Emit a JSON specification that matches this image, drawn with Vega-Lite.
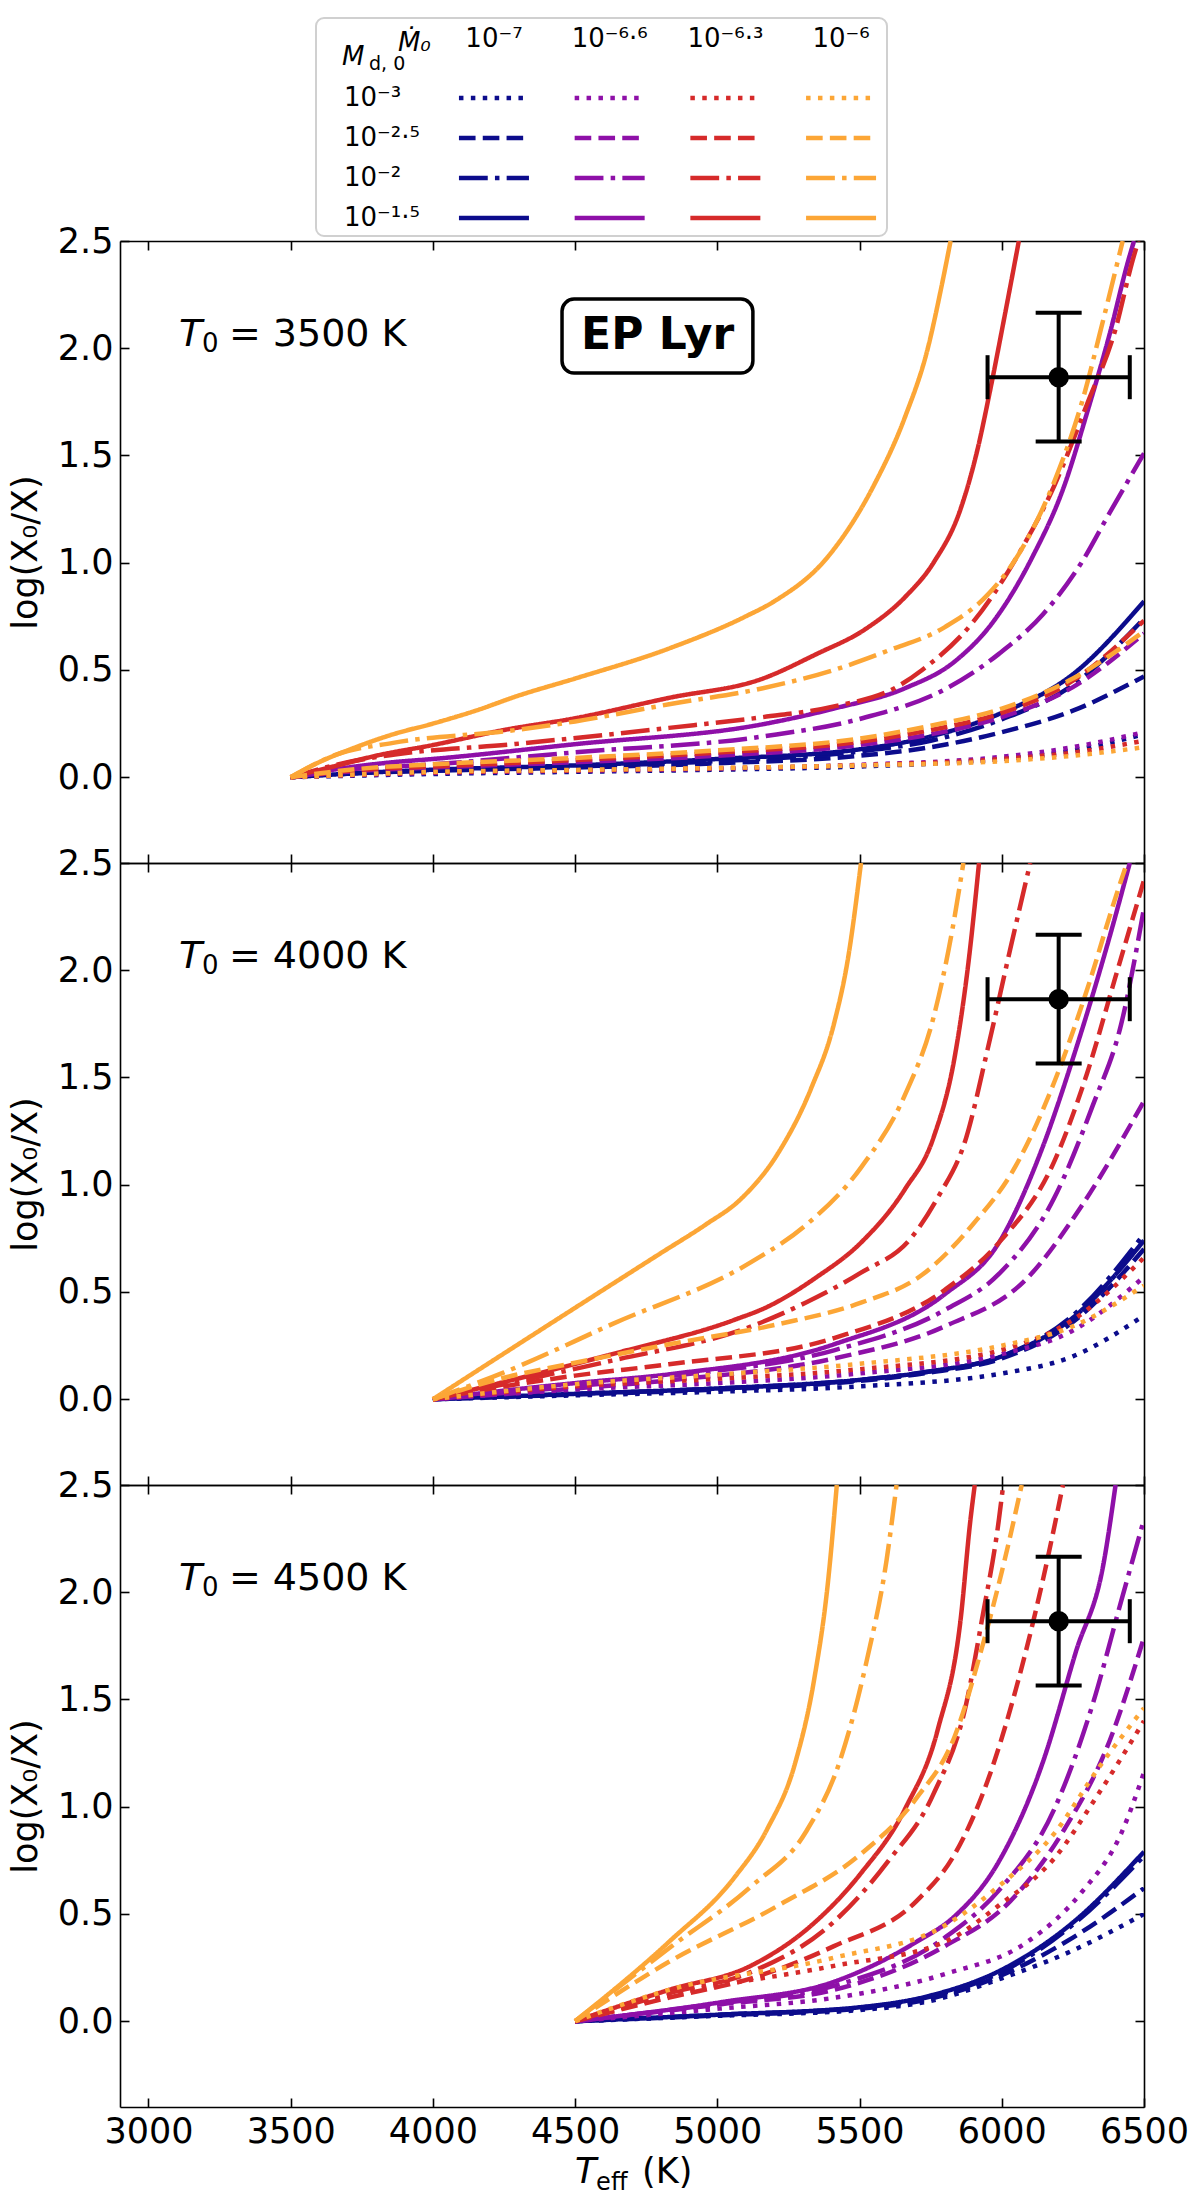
{
  "$schema": "https://vega.github.io/schema/vega-lite/v6.json",
  "background": "white",
  "autosize": {"type": "pad"},
  "padding": {"left": 8, "top": 17, "right": 5, "bottom": 5},
  "config": {
    "font": "DejaVu Sans",
    "view": {"stroke": null},
    "axis": {
      "grid": false,
      "domainColor": "black",
      "domainWidth": 1.6,
      "tickColor": "black",
      "tickWidth": 1.6,
      "tickSize": -9,
      "labelPadding": 16,
      "labelFont": "DejaVu Sans",
      "labelFontSize": 35,
      "labelColor": "black",
      "titleFont": "DejaVu Sans",
      "titleFontSize": 35,
      "titleFontWeight": "normal",
      "titleColor": "black"
    }
  },
  "datasets": {
    "obs": [{"T": 6200, "Tlo": 5950, "Thi": 6450, "v": 1.865, "vlo": 1.565, "vhi": 2.165}],
    "leg": [
      {"m": "-7", "d": "-3", "c": 0, "r": 0}, {"m": "-7", "d": "-2.5", "c": 0, "r": 1}, {"m": "-7", "d": "-2", "c": 0, "r": 2}, {"m": "-7", "d": "-1.5", "c": 0, "r": 3},
      {"m": "-6.6", "d": "-3", "c": 1, "r": 0}, {"m": "-6.6", "d": "-2.5", "c": 1, "r": 1}, {"m": "-6.6", "d": "-2", "c": 1, "r": 2}, {"m": "-6.6", "d": "-1.5", "c": 1, "r": 3},
      {"m": "-6.3", "d": "-3", "c": 2, "r": 0}, {"m": "-6.3", "d": "-2.5", "c": 2, "r": 1}, {"m": "-6.3", "d": "-2", "c": 2, "r": 2}, {"m": "-6.3", "d": "-1.5", "c": 2, "r": 3},
      {"m": "-6", "d": "-3", "c": 3, "r": 0}, {"m": "-6", "d": "-2.5", "c": 3, "r": 1}, {"m": "-6", "d": "-2", "c": 3, "r": 2}, {"m": "-6", "d": "-1.5", "c": 3, "r": 3}
    ],
    "legcols": [{"c": 0, "lab": "10⁻⁷"}, {"c": 1, "lab": "10⁻⁶·⁶"}, {"c": 2, "lab": "10⁻⁶·³"}, {"c": 3, "lab": "10⁻⁶"}],
    "legrows": [{"r": 0, "lab": "10⁻³"}, {"r": 1, "lab": "10⁻²·⁵"}, {"r": 2, "lab": "10⁻²"}, {"r": 3, "lab": "10⁻¹·⁵"}],
    "curves": [
      {"p":3500,"m":"-7","d":"-3","x":3500,"y":0},{"p":3500,"m":"-7","d":"-3","x":4000,"y":0.015},{"p":3500,"m":"-7","d":"-3","x":4500,"y":0.025},{"p":3500,"m":"-7","d":"-3","x":5000,"y":0.035},{"p":3500,"m":"-7","d":"-3","x":5500,"y":0.05},{"p":3500,"m":"-7","d":"-3","x":6000,"y":0.085},{"p":3500,"m":"-7","d":"-3","x":6250,"y":0.125},{"p":3500,"m":"-7","d":"-3","x":6500,"y":0.2},
      {"p":3500,"m":"-7","d":"-2.5","x":3500,"y":0},{"p":3500,"m":"-7","d":"-2.5","x":3750,"y":0.02},{"p":3500,"m":"-7","d":"-2.5","x":4000,"y":0.03},{"p":3500,"m":"-7","d":"-2.5","x":4500,"y":0.045},{"p":3500,"m":"-7","d":"-2.5","x":5000,"y":0.065},{"p":3500,"m":"-7","d":"-2.5","x":5500,"y":0.1},{"p":3500,"m":"-7","d":"-2.5","x":5750,"y":0.14},{"p":3500,"m":"-7","d":"-2.5","x":6000,"y":0.21},{"p":3500,"m":"-7","d":"-2.5","x":6250,"y":0.31},{"p":3500,"m":"-7","d":"-2.5","x":6500,"y":0.47},
      {"p":3500,"m":"-7","d":"-2","x":3500,"y":0},{"p":3500,"m":"-7","d":"-2","x":3750,"y":0.02},{"p":3500,"m":"-7","d":"-2","x":4000,"y":0.03},{"p":3500,"m":"-7","d":"-2","x":4500,"y":0.05},{"p":3500,"m":"-7","d":"-2","x":5000,"y":0.075},{"p":3500,"m":"-7","d":"-2","x":5500,"y":0.12},{"p":3500,"m":"-7","d":"-2","x":5750,"y":0.17},{"p":3500,"m":"-7","d":"-2","x":6000,"y":0.27},{"p":3500,"m":"-7","d":"-2","x":6250,"y":0.43},{"p":3500,"m":"-7","d":"-2","x":6500,"y":0.74},
      {"p":3500,"m":"-7","d":"-1.5","x":3500,"y":0},{"p":3500,"m":"-7","d":"-1.5","x":3750,"y":0.02},{"p":3500,"m":"-7","d":"-1.5","x":4000,"y":0.035},{"p":3500,"m":"-7","d":"-1.5","x":4500,"y":0.055},{"p":3500,"m":"-7","d":"-1.5","x":5000,"y":0.085},{"p":3500,"m":"-7","d":"-1.5","x":5500,"y":0.13},{"p":3500,"m":"-7","d":"-1.5","x":5750,"y":0.19},{"p":3500,"m":"-7","d":"-1.5","x":6000,"y":0.3},{"p":3500,"m":"-7","d":"-1.5","x":6250,"y":0.48},{"p":3500,"m":"-7","d":"-1.5","x":6500,"y":0.82},
      {"p":3500,"m":"-6.6","d":"-3","x":3500,"y":0},{"p":3500,"m":"-6.6","d":"-3","x":4000,"y":0.02},{"p":3500,"m":"-6.6","d":"-3","x":4500,"y":0.03},{"p":3500,"m":"-6.6","d":"-3","x":5000,"y":0.04},{"p":3500,"m":"-6.6","d":"-3","x":5500,"y":0.058},{"p":3500,"m":"-6.6","d":"-3","x":6000,"y":0.095},{"p":3500,"m":"-6.6","d":"-3","x":6250,"y":0.14},{"p":3500,"m":"-6.6","d":"-3","x":6500,"y":0.21},
      {"p":3500,"m":"-6.6","d":"-2.5","x":3500,"y":0},{"p":3500,"m":"-6.6","d":"-2.5","x":3750,"y":0.03},{"p":3500,"m":"-6.6","d":"-2.5","x":4000,"y":0.045},{"p":3500,"m":"-6.6","d":"-2.5","x":4500,"y":0.07},{"p":3500,"m":"-6.6","d":"-2.5","x":5000,"y":0.1},{"p":3500,"m":"-6.6","d":"-2.5","x":5500,"y":0.15},{"p":3500,"m":"-6.6","d":"-2.5","x":5750,"y":0.2},{"p":3500,"m":"-6.6","d":"-2.5","x":6000,"y":0.28},{"p":3500,"m":"-6.6","d":"-2.5","x":6250,"y":0.42},{"p":3500,"m":"-6.6","d":"-2.5","x":6500,"y":0.67},
      {"p":3500,"m":"-6.6","d":"-2","x":3500,"y":0},{"p":3500,"m":"-6.6","d":"-2","x":3700,"y":0.035},{"p":3500,"m":"-6.6","d":"-2","x":4000,"y":0.06},{"p":3500,"m":"-6.6","d":"-2","x":4500,"y":0.116},{"p":3500,"m":"-6.6","d":"-2","x":5160,"y":0.19},{"p":3500,"m":"-6.6","d":"-2","x":5510,"y":0.275},{"p":3500,"m":"-6.6","d":"-2","x":5800,"y":0.41},{"p":3500,"m":"-6.6","d":"-2","x":5990,"y":0.575},{"p":3500,"m":"-6.6","d":"-2","x":6145,"y":0.76},{"p":3500,"m":"-6.6","d":"-2","x":6280,"y":1.0},{"p":3500,"m":"-6.6","d":"-2","x":6378,"y":1.23},{"p":3500,"m":"-6.6","d":"-2","x":6500,"y":1.51},
      {"p":3500,"m":"-6.6","d":"-1.5","x":3500,"y":0},{"p":3500,"m":"-6.6","d":"-1.5","x":3700,"y":0.045},{"p":3500,"m":"-6.6","d":"-1.5","x":3860,"y":0.07},{"p":3500,"m":"-6.6","d":"-1.5","x":4000,"y":0.085},{"p":3500,"m":"-6.6","d":"-1.5","x":4500,"y":0.154},{"p":3500,"m":"-6.6","d":"-1.5","x":5160,"y":0.247},{"p":3500,"m":"-6.6","d":"-1.5","x":5410,"y":0.32},{"p":3500,"m":"-6.6","d":"-1.5","x":5660,"y":0.415},{"p":3500,"m":"-6.6","d":"-1.5","x":5835,"y":0.54},{"p":3500,"m":"-6.6","d":"-1.5","x":5970,"y":0.725},{"p":3500,"m":"-6.6","d":"-1.5","x":6105,"y":1.02},{"p":3500,"m":"-6.6","d":"-1.5","x":6220,"y":1.36},{"p":3500,"m":"-6.6","d":"-1.5","x":6300,"y":1.7},{"p":3500,"m":"-6.6","d":"-1.5","x":6380,"y":2.07},{"p":3500,"m":"-6.6","d":"-1.5","x":6445,"y":2.41},{"p":3500,"m":"-6.6","d":"-1.5","x":6465,"y":2.5},
      {"p":3500,"m":"-6.3","d":"-3","x":3500,"y":0},{"p":3500,"m":"-6.3","d":"-3","x":4000,"y":0.022},{"p":3500,"m":"-6.3","d":"-3","x":4500,"y":0.032},{"p":3500,"m":"-6.3","d":"-3","x":5000,"y":0.042},{"p":3500,"m":"-6.3","d":"-3","x":5500,"y":0.056},{"p":3500,"m":"-6.3","d":"-3","x":6000,"y":0.085},{"p":3500,"m":"-6.3","d":"-3","x":6250,"y":0.115},{"p":3500,"m":"-6.3","d":"-3","x":6500,"y":0.17},
      {"p":3500,"m":"-6.3","d":"-2.5","x":3500,"y":0},{"p":3500,"m":"-6.3","d":"-2.5","x":3750,"y":0.035},{"p":3500,"m":"-6.3","d":"-2.5","x":4000,"y":0.05},{"p":3500,"m":"-6.3","d":"-2.5","x":4500,"y":0.08},{"p":3500,"m":"-6.3","d":"-2.5","x":5000,"y":0.115},{"p":3500,"m":"-6.3","d":"-2.5","x":5500,"y":0.165},{"p":3500,"m":"-6.3","d":"-2.5","x":5750,"y":0.22},{"p":3500,"m":"-6.3","d":"-2.5","x":6000,"y":0.3},{"p":3500,"m":"-6.3","d":"-2.5","x":6250,"y":0.45},{"p":3500,"m":"-6.3","d":"-2.5","x":6500,"y":0.73},
      {"p":3500,"m":"-6.3","d":"-2","x":3500,"y":0},{"p":3500,"m":"-6.3","d":"-2","x":3700,"y":0.07},{"p":3500,"m":"-6.3","d":"-2","x":3860,"y":0.105},{"p":3500,"m":"-6.3","d":"-2","x":4290,"y":0.155},{"p":3500,"m":"-6.3","d":"-2","x":4830,"y":0.23},{"p":3500,"m":"-6.3","d":"-2","x":5160,"y":0.28},{"p":3500,"m":"-6.3","d":"-2","x":5410,"y":0.33},{"p":3500,"m":"-6.3","d":"-2","x":5630,"y":0.42},{"p":3500,"m":"-6.3","d":"-2","x":5720,"y":0.5},{"p":3500,"m":"-6.3","d":"-2","x":5900,"y":0.725},{"p":3500,"m":"-6.3","d":"-2","x":6050,"y":1.02},{"p":3500,"m":"-6.3","d":"-2","x":6185,"y":1.36},{"p":3500,"m":"-6.3","d":"-2","x":6300,"y":1.74},{"p":3500,"m":"-6.3","d":"-2","x":6400,"y":2.09},{"p":3500,"m":"-6.3","d":"-2","x":6460,"y":2.41},{"p":3500,"m":"-6.3","d":"-2","x":6480,"y":2.5},
      {"p":3500,"m":"-6.3","d":"-1.5","x":3500,"y":0},{"p":3500,"m":"-6.3","d":"-1.5","x":3650,"y":0.05},{"p":3500,"m":"-6.3","d":"-1.5","x":3800,"y":0.1},{"p":3500,"m":"-6.3","d":"-1.5","x":4000,"y":0.15},{"p":3500,"m":"-6.3","d":"-1.5","x":4250,"y":0.22},{"p":3500,"m":"-6.3","d":"-1.5","x":4500,"y":0.275},{"p":3500,"m":"-6.3","d":"-1.5","x":4830,"y":0.37},{"p":3500,"m":"-6.3","d":"-1.5","x":5160,"y":0.46},{"p":3500,"m":"-6.3","d":"-1.5","x":5350,"y":0.575},{"p":3500,"m":"-6.3","d":"-1.5","x":5520,"y":0.69},{"p":3500,"m":"-6.3","d":"-1.5","x":5660,"y":0.84},{"p":3500,"m":"-6.3","d":"-1.5","x":5760,"y":1.0},{"p":3500,"m":"-6.3","d":"-1.5","x":5855,"y":1.25},{"p":3500,"m":"-6.3","d":"-1.5","x":5915,"y":1.53},{"p":3500,"m":"-6.3","d":"-1.5","x":5960,"y":1.81},{"p":3500,"m":"-6.3","d":"-1.5","x":6010,"y":2.15},{"p":3500,"m":"-6.3","d":"-1.5","x":6060,"y":2.5},
      {"p":3500,"m":"-6","d":"-3","x":3500,"y":0},{"p":3500,"m":"-6","d":"-3","x":4000,"y":0.025},{"p":3500,"m":"-6","d":"-3","x":4500,"y":0.034},{"p":3500,"m":"-6","d":"-3","x":5000,"y":0.043},{"p":3500,"m":"-6","d":"-3","x":5500,"y":0.055},{"p":3500,"m":"-6","d":"-3","x":6000,"y":0.075},{"p":3500,"m":"-6","d":"-3","x":6250,"y":0.1},{"p":3500,"m":"-6","d":"-3","x":6500,"y":0.14},
      {"p":3500,"m":"-6","d":"-2.5","x":3500,"y":0},{"p":3500,"m":"-6","d":"-2.5","x":3750,"y":0.04},{"p":3500,"m":"-6","d":"-2.5","x":4000,"y":0.06},{"p":3500,"m":"-6","d":"-2.5","x":4500,"y":0.09},{"p":3500,"m":"-6","d":"-2.5","x":5000,"y":0.125},{"p":3500,"m":"-6","d":"-2.5","x":5500,"y":0.18},{"p":3500,"m":"-6","d":"-2.5","x":5750,"y":0.24},{"p":3500,"m":"-6","d":"-2.5","x":6000,"y":0.32},{"p":3500,"m":"-6","d":"-2.5","x":6250,"y":0.46},{"p":3500,"m":"-6","d":"-2.5","x":6500,"y":0.68},
      {"p":3500,"m":"-6","d":"-2","x":3500,"y":0},{"p":3500,"m":"-6","d":"-2","x":3660,"y":0.105},{"p":3500,"m":"-6","d":"-2","x":3860,"y":0.16},{"p":3500,"m":"-6","d":"-2","x":4290,"y":0.22},{"p":3500,"m":"-6","d":"-2","x":4500,"y":0.26},{"p":3500,"m":"-6","d":"-2","x":4830,"y":0.34},{"p":3500,"m":"-6","d":"-2","x":5160,"y":0.415},{"p":3500,"m":"-6","d":"-2","x":5410,"y":0.5},{"p":3500,"m":"-6","d":"-2","x":5600,"y":0.59},{"p":3500,"m":"-6","d":"-2","x":5800,"y":0.7},{"p":3500,"m":"-6","d":"-2","x":5950,"y":0.85},{"p":3500,"m":"-6","d":"-2","x":6050,"y":1.02},{"p":3500,"m":"-6","d":"-2","x":6185,"y":1.38},{"p":3500,"m":"-6","d":"-2","x":6280,"y":1.74},{"p":3500,"m":"-6","d":"-2","x":6360,"y":2.15},{"p":3500,"m":"-6","d":"-2","x":6425,"y":2.5},
      {"p":3500,"m":"-6","d":"-1.5","x":3500,"y":0},{"p":3500,"m":"-6","d":"-1.5","x":3600,"y":0.07},{"p":3500,"m":"-6","d":"-1.5","x":3700,"y":0.125},{"p":3500,"m":"-6","d":"-1.5","x":3860,"y":0.2},{"p":3500,"m":"-6","d":"-1.5","x":4000,"y":0.25},{"p":3500,"m":"-6","d":"-1.5","x":4150,"y":0.31},{"p":3500,"m":"-6","d":"-1.5","x":4300,"y":0.38},{"p":3500,"m":"-6","d":"-1.5","x":4500,"y":0.46},{"p":3500,"m":"-6","d":"-1.5","x":4830,"y":0.6},{"p":3500,"m":"-6","d":"-1.5","x":5100,"y":0.75},{"p":3500,"m":"-6","d":"-1.5","x":5200,"y":0.82},{"p":3500,"m":"-6","d":"-1.5","x":5390,"y":1.03},{"p":3500,"m":"-6","d":"-1.5","x":5550,"y":1.36},{"p":3500,"m":"-6","d":"-1.5","x":5660,"y":1.68},{"p":3500,"m":"-6","d":"-1.5","x":5740,"y":2.0},{"p":3500,"m":"-6","d":"-1.5","x":5790,"y":2.3},{"p":3500,"m":"-6","d":"-1.5","x":5820,"y":2.5},

      {"p":4000,"m":"-7","d":"-3","x":4000,"y":0},{"p":4000,"m":"-7","d":"-3","x":4500,"y":0.018},{"p":4000,"m":"-7","d":"-3","x":5000,"y":0.035},{"p":4000,"m":"-7","d":"-3","x":5500,"y":0.06},{"p":4000,"m":"-7","d":"-3","x":6000,"y":0.12},{"p":4000,"m":"-7","d":"-3","x":6250,"y":0.2},{"p":4000,"m":"-7","d":"-3","x":6500,"y":0.39},
      {"p":4000,"m":"-7","d":"-2.5","x":4000,"y":0},{"p":4000,"m":"-7","d":"-2.5","x":4500,"y":0.022},{"p":4000,"m":"-7","d":"-2.5","x":5000,"y":0.045},{"p":4000,"m":"-7","d":"-2.5","x":5500,"y":0.085},{"p":4000,"m":"-7","d":"-2.5","x":5750,"y":0.125},{"p":4000,"m":"-7","d":"-2.5","x":6000,"y":0.19},{"p":4000,"m":"-7","d":"-2.5","x":6250,"y":0.36},{"p":4000,"m":"-7","d":"-2.5","x":6500,"y":0.7},
      {"p":4000,"m":"-7","d":"-2","x":4000,"y":0},{"p":4000,"m":"-7","d":"-2","x":4500,"y":0.025},{"p":4000,"m":"-7","d":"-2","x":5000,"y":0.05},{"p":4000,"m":"-7","d":"-2","x":5500,"y":0.09},{"p":4000,"m":"-7","d":"-2","x":5750,"y":0.13},{"p":4000,"m":"-7","d":"-2","x":6000,"y":0.2},{"p":4000,"m":"-7","d":"-2","x":6250,"y":0.39},{"p":4000,"m":"-7","d":"-2","x":6500,"y":0.77},
      {"p":4000,"m":"-7","d":"-1.5","x":4000,"y":0},{"p":4000,"m":"-7","d":"-1.5","x":4500,"y":0.025},{"p":4000,"m":"-7","d":"-1.5","x":5000,"y":0.05},{"p":4000,"m":"-7","d":"-1.5","x":5500,"y":0.09},{"p":4000,"m":"-7","d":"-1.5","x":5750,"y":0.13},{"p":4000,"m":"-7","d":"-1.5","x":6000,"y":0.2},{"p":4000,"m":"-7","d":"-1.5","x":6250,"y":0.38},{"p":4000,"m":"-7","d":"-1.5","x":6500,"y":0.74},
      {"p":4000,"m":"-6.6","d":"-3","x":4000,"y":0},{"p":4000,"m":"-6.6","d":"-3","x":4500,"y":0.045},{"p":4000,"m":"-6.6","d":"-3","x":5000,"y":0.075},{"p":4000,"m":"-6.6","d":"-3","x":5500,"y":0.12},{"p":4000,"m":"-6.6","d":"-3","x":6000,"y":0.21},{"p":4000,"m":"-6.6","d":"-3","x":6250,"y":0.32},{"p":4000,"m":"-6.6","d":"-3","x":6500,"y":0.57},
      {"p":4000,"m":"-6.6","d":"-2.5","x":4000,"y":0},{"p":4000,"m":"-6.6","d":"-2.5","x":4500,"y":0.05},{"p":4000,"m":"-6.6","d":"-2.5","x":4830,"y":0.088},{"p":4000,"m":"-6.6","d":"-2.5","x":5410,"y":0.19},{"p":4000,"m":"-6.6","d":"-2.5","x":5800,"y":0.34},{"p":4000,"m":"-6.6","d":"-2.5","x":6090,"y":0.565},{"p":4000,"m":"-6.6","d":"-2.5","x":6280,"y":0.9},{"p":4000,"m":"-6.6","d":"-2.5","x":6500,"y":1.39},
      {"p":4000,"m":"-6.6","d":"-2","x":4000,"y":0},{"p":4000,"m":"-6.6","d":"-2","x":4500,"y":0.06},{"p":4000,"m":"-6.6","d":"-2","x":4830,"y":0.107},{"p":4000,"m":"-6.6","d":"-2","x":5410,"y":0.228},{"p":4000,"m":"-6.6","d":"-2","x":5800,"y":0.416},{"p":4000,"m":"-6.6","d":"-2","x":5990,"y":0.584},{"p":4000,"m":"-6.6","d":"-2","x":6185,"y":0.94},{"p":4000,"m":"-6.6","d":"-2","x":6320,"y":1.37},{"p":4000,"m":"-6.6","d":"-2","x":6420,"y":1.75},{"p":4000,"m":"-6.6","d":"-2","x":6500,"y":2.29},
      {"p":4000,"m":"-6.6","d":"-1.5","x":4000,"y":0},{"p":4000,"m":"-6.6","d":"-1.5","x":4250,"y":0.04},{"p":4000,"m":"-6.6","d":"-1.5","x":4500,"y":0.075},{"p":4000,"m":"-6.6","d":"-1.5","x":4830,"y":0.116},{"p":4000,"m":"-6.6","d":"-1.5","x":5410,"y":0.256},{"p":4000,"m":"-6.6","d":"-1.5","x":5800,"y":0.49},{"p":4000,"m":"-6.6","d":"-1.5","x":5990,"y":0.73},{"p":4000,"m":"-6.6","d":"-1.5","x":6145,"y":1.18},{"p":4000,"m":"-6.6","d":"-1.5","x":6260,"y":1.63},{"p":4000,"m":"-6.6","d":"-1.5","x":6380,"y":2.16},{"p":4000,"m":"-6.6","d":"-1.5","x":6450,"y":2.5},
      {"p":4000,"m":"-6.3","d":"-3","x":4000,"y":0},{"p":4000,"m":"-6.3","d":"-3","x":4500,"y":0.06},{"p":4000,"m":"-6.3","d":"-3","x":5000,"y":0.095},{"p":4000,"m":"-6.3","d":"-3","x":5500,"y":0.14},{"p":4000,"m":"-6.3","d":"-3","x":6000,"y":0.23},{"p":4000,"m":"-6.3","d":"-3","x":6250,"y":0.37},{"p":4000,"m":"-6.3","d":"-3","x":6500,"y":0.66},
      {"p":4000,"m":"-6.3","d":"-2.5","x":4000,"y":0},{"p":4000,"m":"-6.3","d":"-2.5","x":4250,"y":0.06},{"p":4000,"m":"-6.3","d":"-2.5","x":4500,"y":0.11},{"p":4000,"m":"-6.3","d":"-2.5","x":4830,"y":0.163},{"p":4000,"m":"-6.3","d":"-2.5","x":5410,"y":0.285},{"p":4000,"m":"-6.3","d":"-2.5","x":5800,"y":0.51},{"p":4000,"m":"-6.3","d":"-2.5","x":5990,"y":0.73},{"p":4000,"m":"-6.3","d":"-2.5","x":6185,"y":1.11},{"p":4000,"m":"-6.3","d":"-2.5","x":6300,"y":1.52},{"p":4000,"m":"-6.3","d":"-2.5","x":6400,"y":1.97},{"p":4000,"m":"-6.3","d":"-2.5","x":6500,"y":2.42},
      {"p":4000,"m":"-6.3","d":"-2","x":4000,"y":0},{"p":4000,"m":"-6.3","d":"-2","x":4250,"y":0.07},{"p":4000,"m":"-6.3","d":"-2","x":4630,"y":0.18},{"p":4000,"m":"-6.3","d":"-2","x":5120,"y":0.34},{"p":4000,"m":"-6.3","d":"-2","x":5310,"y":0.45},{"p":4000,"m":"-6.3","d":"-2","x":5505,"y":0.59},{"p":4000,"m":"-6.3","d":"-2","x":5680,"y":0.75},{"p":4000,"m":"-6.3","d":"-2","x":5775,"y":0.94},{"p":4000,"m":"-6.3","d":"-2","x":5875,"y":1.22},{"p":4000,"m":"-6.3","d":"-2","x":5950,"y":1.63},{"p":4000,"m":"-6.3","d":"-2","x":6030,"y":2.1},{"p":4000,"m":"-6.3","d":"-2","x":6100,"y":2.5},
      {"p":4000,"m":"-6.3","d":"-1.5","x":4000,"y":0},{"p":4000,"m":"-6.3","d":"-1.5","x":4250,"y":0.08},{"p":4000,"m":"-6.3","d":"-1.5","x":4630,"y":0.21},{"p":4000,"m":"-6.3","d":"-1.5","x":5060,"y":0.37},{"p":4000,"m":"-6.3","d":"-1.5","x":5175,"y":0.43},{"p":4000,"m":"-6.3","d":"-1.5","x":5350,"y":0.57},{"p":4000,"m":"-6.3","d":"-1.5","x":5505,"y":0.73},{"p":4000,"m":"-6.3","d":"-1.5","x":5660,"y":0.98},{"p":4000,"m":"-6.3","d":"-1.5","x":5760,"y":1.22},{"p":4000,"m":"-6.3","d":"-1.5","x":5835,"y":1.6},{"p":4000,"m":"-6.3","d":"-1.5","x":5885,"y":2.06},{"p":4000,"m":"-6.3","d":"-1.5","x":5920,"y":2.5},
      {"p":4000,"m":"-6","d":"-3","x":4000,"y":0},{"p":4000,"m":"-6","d":"-3","x":4500,"y":0.07},{"p":4000,"m":"-6","d":"-3","x":5000,"y":0.115},{"p":4000,"m":"-6","d":"-3","x":5500,"y":0.165},{"p":4000,"m":"-6","d":"-3","x":6000,"y":0.25},{"p":4000,"m":"-6","d":"-3","x":6250,"y":0.34},{"p":4000,"m":"-6","d":"-3","x":6500,"y":0.53},
      {"p":4000,"m":"-6","d":"-2.5","x":4000,"y":0},{"p":4000,"m":"-6","d":"-2.5","x":4250,"y":0.1},{"p":4000,"m":"-6","d":"-2.5","x":4500,"y":0.17},{"p":4000,"m":"-6","d":"-2.5","x":4830,"y":0.256},{"p":4000,"m":"-6","d":"-2.5","x":5215,"y":0.35},{"p":4000,"m":"-6","d":"-2.5","x":5505,"y":0.45},{"p":4000,"m":"-6","d":"-2.5","x":5720,"y":0.58},{"p":4000,"m":"-6","d":"-2.5","x":5895,"y":0.81},{"p":4000,"m":"-6","d":"-2.5","x":6050,"y":1.09},{"p":4000,"m":"-6","d":"-2.5","x":6185,"y":1.48},{"p":4000,"m":"-6","d":"-2.5","x":6300,"y":1.91},{"p":4000,"m":"-6","d":"-2.5","x":6400,"y":2.34},{"p":4000,"m":"-6","d":"-2.5","x":6440,"y":2.5},
      {"p":4000,"m":"-6","d":"-2","x":4000,"y":0},{"p":4000,"m":"-6","d":"-2","x":4250,"y":0.125},{"p":4000,"m":"-6","d":"-2","x":4630,"y":0.35},{"p":4000,"m":"-6","d":"-2","x":5120,"y":0.64},{"p":4000,"m":"-6","d":"-2","x":5310,"y":0.81},{"p":4000,"m":"-6","d":"-2","x":5505,"y":1.08},{"p":4000,"m":"-6","d":"-2","x":5660,"y":1.42},{"p":4000,"m":"-6","d":"-2","x":5760,"y":1.78},{"p":4000,"m":"-6","d":"-2","x":5825,"y":2.18},{"p":4000,"m":"-6","d":"-2","x":5865,"y":2.5},
      {"p":4000,"m":"-6","d":"-1.5","x":4000,"y":0},{"p":4000,"m":"-6","d":"-1.5","x":4540,"y":0.46},{"p":4000,"m":"-6","d":"-1.5","x":4800,"y":0.68},{"p":4000,"m":"-6","d":"-1.5","x":4960,"y":0.815},{"p":4000,"m":"-6","d":"-1.5","x":5080,"y":0.93},{"p":4000,"m":"-6","d":"-1.5","x":5215,"y":1.15},{"p":4000,"m":"-6","d":"-1.5","x":5330,"y":1.45},{"p":4000,"m":"-6","d":"-1.5","x":5410,"y":1.75},{"p":4000,"m":"-6","d":"-1.5","x":5460,"y":2.06},{"p":4000,"m":"-6","d":"-1.5","x":5505,"y":2.5},

      {"p":4500,"m":"-7","d":"-3","x":4500,"y":0},{"p":4500,"m":"-7","d":"-3","x":5000,"y":0.025},{"p":4500,"m":"-7","d":"-3","x":5500,"y":0.052},{"p":4500,"m":"-7","d":"-3","x":5750,"y":0.095},{"p":4500,"m":"-7","d":"-3","x":6000,"y":0.2},{"p":4500,"m":"-7","d":"-3","x":6250,"y":0.33},{"p":4500,"m":"-7","d":"-3","x":6500,"y":0.5},
      {"p":4500,"m":"-7","d":"-2.5","x":4500,"y":0},{"p":4500,"m":"-7","d":"-2.5","x":5000,"y":0.027},{"p":4500,"m":"-7","d":"-2.5","x":5500,"y":0.058},{"p":4500,"m":"-7","d":"-2.5","x":5750,"y":0.105},{"p":4500,"m":"-7","d":"-2.5","x":6000,"y":0.215},{"p":4500,"m":"-7","d":"-2.5","x":6250,"y":0.39},{"p":4500,"m":"-7","d":"-2.5","x":6500,"y":0.62},
      {"p":4500,"m":"-7","d":"-2","x":4500,"y":0},{"p":4500,"m":"-7","d":"-2","x":5000,"y":0.03},{"p":4500,"m":"-7","d":"-2","x":5500,"y":0.063},{"p":4500,"m":"-7","d":"-2","x":5750,"y":0.115},{"p":4500,"m":"-7","d":"-2","x":6000,"y":0.23},{"p":4500,"m":"-7","d":"-2","x":6250,"y":0.45},{"p":4500,"m":"-7","d":"-2","x":6500,"y":0.77},
      {"p":4500,"m":"-7","d":"-1.5","x":4500,"y":0},{"p":4500,"m":"-7","d":"-1.5","x":5000,"y":0.03},{"p":4500,"m":"-7","d":"-1.5","x":5500,"y":0.065},{"p":4500,"m":"-7","d":"-1.5","x":5750,"y":0.12},{"p":4500,"m":"-7","d":"-1.5","x":6000,"y":0.24},{"p":4500,"m":"-7","d":"-1.5","x":6250,"y":0.46},{"p":4500,"m":"-7","d":"-1.5","x":6500,"y":0.79},
      {"p":4500,"m":"-6.6","d":"-3","x":4500,"y":0},{"p":4500,"m":"-6.6","d":"-3","x":5020,"y":0.06},{"p":4500,"m":"-6.6","d":"-3","x":5410,"y":0.109},{"p":4500,"m":"-6.6","d":"-3","x":5800,"y":0.22},{"p":4500,"m":"-6.6","d":"-3","x":6090,"y":0.37},{"p":4500,"m":"-6.6","d":"-3","x":6280,"y":0.6},{"p":4500,"m":"-6.6","d":"-3","x":6420,"y":0.876},{"p":4500,"m":"-6.6","d":"-3","x":6500,"y":1.16},
      {"p":4500,"m":"-6.6","d":"-2.5","x":4500,"y":0},{"p":4500,"m":"-6.6","d":"-2.5","x":5020,"y":0.08},{"p":4500,"m":"-6.6","d":"-2.5","x":5410,"y":0.146},{"p":4500,"m":"-6.6","d":"-2.5","x":5800,"y":0.35},{"p":4500,"m":"-6.6","d":"-2.5","x":6030,"y":0.56},{"p":4500,"m":"-6.6","d":"-2.5","x":6220,"y":0.895},{"p":4500,"m":"-6.6","d":"-2.5","x":6380,"y":1.31},{"p":4500,"m":"-6.6","d":"-2.5","x":6500,"y":1.79},
      {"p":4500,"m":"-6.6","d":"-2","x":4500,"y":0},{"p":4500,"m":"-6.6","d":"-2","x":5020,"y":0.085},{"p":4500,"m":"-6.6","d":"-2","x":5410,"y":0.165},{"p":4500,"m":"-6.6","d":"-2","x":5800,"y":0.39},{"p":4500,"m":"-6.6","d":"-2","x":5990,"y":0.61},{"p":4500,"m":"-6.6","d":"-2","x":6185,"y":0.99},{"p":4500,"m":"-6.6","d":"-2","x":6320,"y":1.48},{"p":4500,"m":"-6.6","d":"-2","x":6420,"y":1.96},{"p":4500,"m":"-6.6","d":"-2","x":6500,"y":2.34},
      {"p":4500,"m":"-6.6","d":"-1.5","x":4500,"y":0},{"p":4500,"m":"-6.6","d":"-1.5","x":5020,"y":0.09},{"p":4500,"m":"-6.6","d":"-1.5","x":5410,"y":0.184},{"p":4500,"m":"-6.6","d":"-1.5","x":5700,"y":0.37},{"p":4500,"m":"-6.6","d":"-1.5","x":5835,"y":0.49},{"p":4500,"m":"-6.6","d":"-1.5","x":5990,"y":0.745},{"p":4500,"m":"-6.6","d":"-1.5","x":6145,"y":1.21},{"p":4500,"m":"-6.6","d":"-1.5","x":6260,"y":1.72},{"p":4500,"m":"-6.6","d":"-1.5","x":6360,"y":2.15},{"p":4500,"m":"-6.6","d":"-1.5","x":6400,"y":2.5},
      {"p":4500,"m":"-6.3","d":"-3","x":4500,"y":0},{"p":4500,"m":"-6.3","d":"-3","x":4830,"y":0.12},{"p":4500,"m":"-6.3","d":"-3","x":5410,"y":0.258},{"p":4500,"m":"-6.3","d":"-3","x":5800,"y":0.37},{"p":4500,"m":"-6.3","d":"-3","x":5990,"y":0.54},{"p":4500,"m":"-6.3","d":"-3","x":6185,"y":0.76},{"p":4500,"m":"-6.3","d":"-3","x":6340,"y":1.06},{"p":4500,"m":"-6.3","d":"-3","x":6500,"y":1.4},
      {"p":4500,"m":"-6.3","d":"-2.5","x":4500,"y":0},{"p":4500,"m":"-6.3","d":"-2.5","x":4830,"y":0.11},{"p":4500,"m":"-6.3","d":"-2.5","x":5120,"y":0.2},{"p":4500,"m":"-6.3","d":"-2.5","x":5410,"y":0.35},{"p":4500,"m":"-6.3","d":"-2.5","x":5700,"y":0.56},{"p":4500,"m":"-6.3","d":"-2.5","x":5835,"y":0.78},{"p":4500,"m":"-6.3","d":"-2.5","x":5950,"y":1.12},{"p":4500,"m":"-6.3","d":"-2.5","x":6050,"y":1.55},{"p":4500,"m":"-6.3","d":"-2.5","x":6145,"y":2.06},{"p":4500,"m":"-6.3","d":"-2.5","x":6215,"y":2.5},
      {"p":4500,"m":"-6.3","d":"-2","x":4500,"y":0},{"p":4500,"m":"-6.3","d":"-2","x":4830,"y":0.13},{"p":4500,"m":"-6.3","d":"-2","x":5120,"y":0.23},{"p":4500,"m":"-6.3","d":"-2","x":5410,"y":0.464},{"p":4500,"m":"-6.3","d":"-2","x":5600,"y":0.745},{"p":4500,"m":"-6.3","d":"-2","x":5760,"y":1.06},{"p":4500,"m":"-6.3","d":"-2","x":5875,"y":1.48},{"p":4500,"m":"-6.3","d":"-2","x":5930,"y":1.87},{"p":4500,"m":"-6.3","d":"-2","x":5990,"y":2.34},{"p":4500,"m":"-6.3","d":"-2","x":6005,"y":2.5},
      {"p":4500,"m":"-6.3","d":"-1.5","x":4500,"y":0},{"p":4500,"m":"-6.3","d":"-1.5","x":4830,"y":0.146},{"p":4500,"m":"-6.3","d":"-1.5","x":5120,"y":0.26},{"p":4500,"m":"-6.3","d":"-1.5","x":5330,"y":0.446},{"p":4500,"m":"-6.3","d":"-1.5","x":5505,"y":0.69},{"p":4500,"m":"-6.3","d":"-1.5","x":5660,"y":0.99},{"p":4500,"m":"-6.3","d":"-1.5","x":5775,"y":1.36},{"p":4500,"m":"-6.3","d":"-1.5","x":5855,"y":1.87},{"p":4500,"m":"-6.3","d":"-1.5","x":5890,"y":2.34},{"p":4500,"m":"-6.3","d":"-1.5","x":5905,"y":2.5},
      {"p":4500,"m":"-6","d":"-3","x":4500,"y":0},{"p":4500,"m":"-6","d":"-3","x":4830,"y":0.146},{"p":4500,"m":"-6","d":"-3","x":5410,"y":0.296},{"p":4500,"m":"-6","d":"-3","x":5800,"y":0.446},{"p":4500,"m":"-6","d":"-3","x":5990,"y":0.63},{"p":4500,"m":"-6","d":"-3","x":6185,"y":0.876},{"p":4500,"m":"-6","d":"-3","x":6340,"y":1.18},{"p":4500,"m":"-6","d":"-3","x":6500,"y":1.46},
      {"p":4500,"m":"-6","d":"-2.5","x":4500,"y":0},{"p":4500,"m":"-6","d":"-2.5","x":4830,"y":0.277},{"p":4500,"m":"-6","d":"-2.5","x":5215,"y":0.54},{"p":4500,"m":"-6","d":"-2.5","x":5505,"y":0.78},{"p":4500,"m":"-6","d":"-2.5","x":5700,"y":1.04},{"p":4500,"m":"-6","d":"-2.5","x":5835,"y":1.33},{"p":4500,"m":"-6","d":"-2.5","x":5930,"y":1.74},{"p":4500,"m":"-6","d":"-2.5","x":6010,"y":2.15},{"p":4500,"m":"-6","d":"-2.5","x":6070,"y":2.5},
      {"p":4500,"m":"-6","d":"-2","x":4500,"y":0},{"p":4500,"m":"-6","d":"-2","x":4830,"y":0.34},{"p":4500,"m":"-6","d":"-2","x":5120,"y":0.63},{"p":4500,"m":"-6","d":"-2","x":5310,"y":0.88},{"p":4500,"m":"-6","d":"-2","x":5430,"y":1.21},{"p":4500,"m":"-6","d":"-2","x":5525,"y":1.68},{"p":4500,"m":"-6","d":"-2","x":5595,"y":2.15},{"p":4500,"m":"-6","d":"-2","x":5630,"y":2.5},
      {"p":4500,"m":"-6","d":"-1.5","x":4500,"y":0},{"p":4500,"m":"-6","d":"-1.5","x":4830,"y":0.37},{"p":4500,"m":"-6","d":"-1.5","x":5060,"y":0.67},{"p":4500,"m":"-6","d":"-1.5","x":5175,"y":0.895},{"p":4500,"m":"-6","d":"-1.5","x":5275,"y":1.21},{"p":4500,"m":"-6","d":"-1.5","x":5340,"y":1.59},{"p":4500,"m":"-6","d":"-1.5","x":5390,"y":2.06},{"p":4500,"m":"-6","d":"-1.5","x":5420,"y":2.5}
    ]
  },
  "spacing": -13,
  "resolve": {"scale": {"x": "independent", "y": "independent"}},
  "vconcat": [
    {
      "spacing": 0,
      "hconcat": [
        {
          "width": 195,
          "height": 218,
          "data": {"values": []},
          "mark": "point",
          "encoding": {}
        },
        {
          "width": 571,
          "height": 218,
          "view": {"stroke": "#d0d0d0", "strokeWidth": 2, "cornerRadius": 8, "fill": "white"},
          "layer": [
            {
              "data": {"name": "leg"},
              "mark": {"type": "rule", "strokeWidth": 4.5, "xOffset": -35, "x2Offset": 35},
              "encoding": {
                "x": {"field": "c", "type": "quantitative", "scale": {"domain": [-1.538, 3.397], "nice": false, "zero": false}, "axis": null},
                "x2": {"field": "c"},
                "y": {"field": "r", "type": "quantitative", "scale": {"domain": [-2, 3.45], "nice": false, "zero": false, "reverse": true}, "axis": null},
                "color": {"field": "m", "type": "nominal", "scale": {"domain": ["-7", "-6.6", "-6.3", "-6"], "range": ["#0c0c8c", "#8e10a8", "#d62a2a", "#fca636"]}, "legend": null},
                "strokeDash": {"field": "d", "type": "nominal", "scale": {"domain": ["-3", "-2.5", "-2", "-1.5"], "range": [[4.5, 7.4], [16.6, 7.2], [28.8, 7.2, 4.5, 7.2], [1, 0]]}, "legend": null}
              }
            },
            {
              "data": {"name": "legcols"},
              "mark": {"type": "text", "fontSize": 26, "align": "center", "baseline": "middle", "color": "black"},
              "encoding": {
                "x": {"field": "c", "type": "quantitative", "axis": null},
                "y": {"datum": -1.47, "type": "quantitative", "axis": null},
                "text": {"field": "lab"}
              }
            },
            {
              "data": {"name": "legrows"},
              "mark": {"type": "text", "fontSize": 26, "align": "left", "baseline": "middle", "color": "black"},
              "encoding": {
                "x": {"datum": -1.296, "type": "quantitative", "axis": null},
                "y": {"field": "r", "type": "quantitative", "axis": null},
                "text": {"field": "lab"}
              }
            },
            {
              "data": {"values": [{"t": "Ṁ₀"}]},
              "mark": {"type": "text", "fontSize": 26, "fontStyle": "italic", "align": "left", "baseline": "middle", "color": "black"},
              "encoding": {
                "x": {"datum": -0.83, "type": "quantitative", "axis": null},
                "y": {"datum": -1.37, "type": "quantitative", "axis": null},
                "text": {"field": "t"}
              }
            },
            {
              "data": {"values": [{"t": "M"}]},
              "mark": {"type": "text", "fontSize": 26, "fontStyle": "italic", "align": "left", "baseline": "middle", "color": "black"},
              "encoding": {
                "x": {"datum": -1.313, "type": "quantitative", "axis": null},
                "y": {"datum": -1.03, "type": "quantitative", "axis": null},
                "text": {"field": "t"}
              }
            },
            {
              "data": {"values": [{"t": "d, 0"}]},
              "mark": {"type": "text", "fontSize": 19, "align": "left", "baseline": "middle", "color": "black", "dx": 27, "dy": 7},
              "encoding": {
                "x": {"datum": -1.313, "type": "quantitative", "axis": null},
                "y": {"datum": -1.03, "type": "quantitative", "axis": null},
                "text": {"field": "t"}
              }
            }
          ]
        }
      ]
    },
    {
      "spacing": 0,
      "bounds": "flush",
      "resolve": {"scale": {"x": "independent", "y": "independent"}},
      "vconcat": [
        {
          "width": 1024,
          "height": 622,
          "resolve": {"axis": {"x": "independent", "y": "independent"}},
          "layer": [
            {
              "data": {"name": "curves"},
              "transform": [{"filter": "datum.p == 3500"}],
              "mark": {"type": "line", "strokeWidth": 4.5, "interpolate": "monotone", "clip": true},
              "encoding": {
                "x": {"field": "x", "type": "quantitative", "scale": {"domain": [2900, 6500], "nice": false, "zero": false}, "axis": {"orient": "bottom", "values": [3000, 3500, 4000, 4500, 5000, 5500, 6000, 6500], "labels": false, "title": null}},
                "y": {"field": "y", "type": "quantitative", "scale": {"domain": [-0.4, 2.5], "nice": false, "zero": false}, "axis": {"orient": "left", "values": [0, 0.5, 1, 1.5, 2, 2.5], "format": ".1f", "title": "log(X₀/X)", "titlePadding": 14}},
                "color": {"field": "m", "type": "nominal", "scale": {"domain": ["-7", "-6.6", "-6.3", "-6"], "range": ["#0c0c8c", "#8e10a8", "#d62a2a", "#fca636"]}, "legend": null},
                "strokeDash": {"field": "d", "type": "nominal", "scale": {"domain": ["-3", "-2.5", "-2", "-1.5"], "range": [[4.5, 7.4], [16.6, 7.2], [28.8, 7.2, 4.5, 7.2], [1, 0]]}, "legend": null}
              }
            },
            {
              "data": {"name": "obs"},
              "mark": {"type": "rule", "strokeWidth": 4, "color": "black"},
              "encoding": {
                "x": {"field": "Tlo", "type": "quantitative", "axis": {"orient": "top", "values": [3000, 3500, 4000, 4500, 5000, 5500, 6000, 6500], "labels": false, "title": null}},
                "x2": {"field": "Thi"},
                "y": {"field": "v", "type": "quantitative", "axis": {"orient": "right", "values": [0, 0.5, 1, 1.5, 2, 2.5], "labels": false, "title": null}}
              }
            },
            {
              "data": {"name": "obs"},
              "mark": {"type": "rule", "strokeWidth": 4, "color": "black"},
              "encoding": {
                "x": {"field": "T", "type": "quantitative", "axis": null},
                "y": {"field": "vlo", "type": "quantitative", "axis": null},
                "y2": {"field": "vhi"}
              }
            },
            {
              "data": {"name": "obs"},
              "mark": {"type": "tick", "orient": "vertical", "size": 44, "thickness": 4, "color": "black", "opacity": 1},
              "encoding": {
                "x": {"field": "Tlo", "type": "quantitative", "axis": null},
                "y": {"field": "v", "type": "quantitative", "axis": null}
              }
            },
            {
              "data": {"name": "obs"},
              "mark": {"type": "tick", "orient": "vertical", "size": 44, "thickness": 4, "color": "black", "opacity": 1},
              "encoding": {
                "x": {"field": "Thi", "type": "quantitative", "axis": null},
                "y": {"field": "v", "type": "quantitative", "axis": null}
              }
            },
            {
              "data": {"name": "obs"},
              "mark": {"type": "tick", "orient": "horizontal", "size": 46, "thickness": 4, "color": "black", "opacity": 1},
              "encoding": {
                "x": {"field": "T", "type": "quantitative", "axis": null},
                "y": {"field": "vlo", "type": "quantitative", "axis": null}
              }
            },
            {
              "data": {"name": "obs"},
              "mark": {"type": "tick", "orient": "horizontal", "size": 46, "thickness": 4, "color": "black", "opacity": 1},
              "encoding": {
                "x": {"field": "T", "type": "quantitative", "axis": null},
                "y": {"field": "vhi", "type": "quantitative", "axis": null}
              }
            },
            {
              "data": {"name": "obs"},
              "mark": {"type": "point", "shape": "circle", "filled": true, "size": 420, "color": "black", "opacity": 1},
              "encoding": {
                "x": {"field": "T", "type": "quantitative", "axis": null},
                "y": {"field": "v", "type": "quantitative", "axis": null}
              }
            },
            {
              "data": {"values": [{"t": "T"}]},
              "mark": {"type": "text", "fontSize": 38, "fontStyle": "italic", "align": "left", "baseline": "middle", "color": "black"},
              "encoding": {"x": {"datum": 3107, "type": "quantitative", "axis": null}, "y": {"datum": 2.06, "type": "quantitative", "axis": null}, "text": {"field": "t"}}
            },
            {
              "data": {"values": [{"t": "0"}]},
              "mark": {"type": "text", "fontSize": 26, "align": "left", "baseline": "middle", "color": "black", "dx": 23, "dy": 9},
              "encoding": {"x": {"datum": 3107, "type": "quantitative", "axis": null}, "y": {"datum": 2.06, "type": "quantitative", "axis": null}, "text": {"field": "t"}}
            },
            {
              "data": {"values": [{"t": "=  3500 K"}]},
              "mark": {"type": "text", "fontSize": 38, "align": "left", "baseline": "middle", "color": "black", "dx": 50},
              "encoding": {"x": {"datum": 3107, "type": "quantitative", "axis": null}, "y": {"datum": 2.06, "type": "quantitative", "axis": null}, "text": {"field": "t"}}
            },
            {
              "data": {"values": [{"t": "EP Lyr"}]},
              "mark": {"type": "rect", "fill": "white", "stroke": "black", "strokeWidth": 3.5, "cornerRadius": 12},
              "encoding": {
                "x": {"datum": 4454, "type": "quantitative", "axis": null},
                "x2": {"datum": 5125},
                "y": {"datum": 2.229, "type": "quantitative", "axis": null},
                "y2": {"datum": 1.884}
              }
            },
            {
              "data": {"values": [{"t": "EP Lyr"}]},
              "mark": {"type": "text", "fontSize": 44, "fontWeight": "bold", "align": "center", "baseline": "middle", "color": "black"},
              "encoding": {"x": {"datum": 4790, "type": "quantitative", "axis": null}, "y": {"datum": 2.056, "type": "quantitative", "axis": null}, "text": {"field": "t"}}
            }
          ]
        },
        {
          "width": 1024,
          "height": 622,
          "resolve": {"axis": {"x": "independent", "y": "independent"}},
          "layer": [
            {
              "data": {"name": "curves"},
              "transform": [{"filter": "datum.p == 4000"}],
              "mark": {"type": "line", "strokeWidth": 4.5, "interpolate": "monotone", "clip": true},
              "encoding": {
                "x": {"field": "x", "type": "quantitative", "scale": {"domain": [2900, 6500], "nice": false, "zero": false}, "axis": {"orient": "bottom", "values": [3000, 3500, 4000, 4500, 5000, 5500, 6000, 6500], "labels": false, "title": null}},
                "y": {"field": "y", "type": "quantitative", "scale": {"domain": [-0.4, 2.5], "nice": false, "zero": false}, "axis": {"orient": "left", "values": [0, 0.5, 1, 1.5, 2, 2.5], "format": ".1f", "title": "log(X₀/X)", "titlePadding": 14}},
                "color": {"field": "m", "type": "nominal", "scale": {"domain": ["-7", "-6.6", "-6.3", "-6"], "range": ["#0c0c8c", "#8e10a8", "#d62a2a", "#fca636"]}, "legend": null},
                "strokeDash": {"field": "d", "type": "nominal", "scale": {"domain": ["-3", "-2.5", "-2", "-1.5"], "range": [[4.5, 7.4], [16.6, 7.2], [28.8, 7.2, 4.5, 7.2], [1, 0]]}, "legend": null}
              }
            },
            {
              "data": {"name": "obs"},
              "mark": {"type": "rule", "strokeWidth": 4, "color": "black"},
              "encoding": {
                "x": {"field": "Tlo", "type": "quantitative", "axis": {"orient": "top", "values": [3000, 3500, 4000, 4500, 5000, 5500, 6000, 6500], "labels": false, "title": null}},
                "x2": {"field": "Thi"},
                "y": {"field": "v", "type": "quantitative", "axis": {"orient": "right", "values": [0, 0.5, 1, 1.5, 2, 2.5], "labels": false, "title": null}}
              }
            },
            {
              "data": {"name": "obs"},
              "mark": {"type": "rule", "strokeWidth": 4, "color": "black"},
              "encoding": {
                "x": {"field": "T", "type": "quantitative", "axis": null},
                "y": {"field": "vlo", "type": "quantitative", "axis": null},
                "y2": {"field": "vhi"}
              }
            },
            {
              "data": {"name": "obs"},
              "mark": {"type": "tick", "orient": "vertical", "size": 44, "thickness": 4, "color": "black", "opacity": 1},
              "encoding": {
                "x": {"field": "Tlo", "type": "quantitative", "axis": null},
                "y": {"field": "v", "type": "quantitative", "axis": null}
              }
            },
            {
              "data": {"name": "obs"},
              "mark": {"type": "tick", "orient": "vertical", "size": 44, "thickness": 4, "color": "black", "opacity": 1},
              "encoding": {
                "x": {"field": "Thi", "type": "quantitative", "axis": null},
                "y": {"field": "v", "type": "quantitative", "axis": null}
              }
            },
            {
              "data": {"name": "obs"},
              "mark": {"type": "tick", "orient": "horizontal", "size": 46, "thickness": 4, "color": "black", "opacity": 1},
              "encoding": {
                "x": {"field": "T", "type": "quantitative", "axis": null},
                "y": {"field": "vlo", "type": "quantitative", "axis": null}
              }
            },
            {
              "data": {"name": "obs"},
              "mark": {"type": "tick", "orient": "horizontal", "size": 46, "thickness": 4, "color": "black", "opacity": 1},
              "encoding": {
                "x": {"field": "T", "type": "quantitative", "axis": null},
                "y": {"field": "vhi", "type": "quantitative", "axis": null}
              }
            },
            {
              "data": {"name": "obs"},
              "mark": {"type": "point", "shape": "circle", "filled": true, "size": 420, "color": "black", "opacity": 1},
              "encoding": {
                "x": {"field": "T", "type": "quantitative", "axis": null},
                "y": {"field": "v", "type": "quantitative", "axis": null}
              }
            },
            {
              "data": {"values": [{"t": "T"}]},
              "mark": {"type": "text", "fontSize": 38, "fontStyle": "italic", "align": "left", "baseline": "middle", "color": "black"},
              "encoding": {"x": {"datum": 3107, "type": "quantitative", "axis": null}, "y": {"datum": 2.06, "type": "quantitative", "axis": null}, "text": {"field": "t"}}
            },
            {
              "data": {"values": [{"t": "0"}]},
              "mark": {"type": "text", "fontSize": 26, "align": "left", "baseline": "middle", "color": "black", "dx": 23, "dy": 9},
              "encoding": {"x": {"datum": 3107, "type": "quantitative", "axis": null}, "y": {"datum": 2.06, "type": "quantitative", "axis": null}, "text": {"field": "t"}}
            },
            {
              "data": {"values": [{"t": "=  4000 K"}]},
              "mark": {"type": "text", "fontSize": 38, "align": "left", "baseline": "middle", "color": "black", "dx": 50},
              "encoding": {"x": {"datum": 3107, "type": "quantitative", "axis": null}, "y": {"datum": 2.06, "type": "quantitative", "axis": null}, "text": {"field": "t"}}
            }
          ]
        },
        {
          "width": 1024,
          "height": 622,
          "resolve": {"axis": {"x": "independent", "y": "independent"}},
          "layer": [
            {
              "data": {"name": "curves"},
              "transform": [{"filter": "datum.p == 4500"}],
              "mark": {"type": "line", "strokeWidth": 4.5, "interpolate": "monotone", "clip": true},
              "encoding": {
                "x": {"field": "x", "type": "quantitative", "scale": {"domain": [2900, 6500], "nice": false, "zero": false}, "axis": {"orient": "bottom", "values": [3000, 3500, 4000, 4500, 5000, 5500, 6000, 6500], "format": "d", "labelFlush": false, "title": null}},
                "y": {"field": "y", "type": "quantitative", "scale": {"domain": [-0.4, 2.5], "nice": false, "zero": false}, "axis": {"orient": "left", "values": [0, 0.5, 1, 1.5, 2, 2.5], "format": ".1f", "title": "log(X₀/X)", "titlePadding": 14}},
                "color": {"field": "m", "type": "nominal", "scale": {"domain": ["-7", "-6.6", "-6.3", "-6"], "range": ["#0c0c8c", "#8e10a8", "#d62a2a", "#fca636"]}, "legend": null},
                "strokeDash": {"field": "d", "type": "nominal", "scale": {"domain": ["-3", "-2.5", "-2", "-1.5"], "range": [[4.5, 7.4], [16.6, 7.2], [28.8, 7.2, 4.5, 7.2], [1, 0]]}, "legend": null}
              }
            },
            {
              "data": {"name": "obs"},
              "mark": {"type": "rule", "strokeWidth": 4, "color": "black"},
              "encoding": {
                "x": {"field": "Tlo", "type": "quantitative", "axis": {"orient": "top", "values": [3000, 3500, 4000, 4500, 5000, 5500, 6000, 6500], "labels": false, "title": null}},
                "x2": {"field": "Thi"},
                "y": {"field": "v", "type": "quantitative", "axis": {"orient": "right", "values": [0, 0.5, 1, 1.5, 2, 2.5], "labels": false, "title": null}}
              }
            },
            {
              "data": {"name": "obs"},
              "mark": {"type": "rule", "strokeWidth": 4, "color": "black"},
              "encoding": {
                "x": {"field": "T", "type": "quantitative", "axis": null},
                "y": {"field": "vlo", "type": "quantitative", "axis": null},
                "y2": {"field": "vhi"}
              }
            },
            {
              "data": {"name": "obs"},
              "mark": {"type": "tick", "orient": "vertical", "size": 44, "thickness": 4, "color": "black", "opacity": 1},
              "encoding": {
                "x": {"field": "Tlo", "type": "quantitative", "axis": null},
                "y": {"field": "v", "type": "quantitative", "axis": null}
              }
            },
            {
              "data": {"name": "obs"},
              "mark": {"type": "tick", "orient": "vertical", "size": 44, "thickness": 4, "color": "black", "opacity": 1},
              "encoding": {
                "x": {"field": "Thi", "type": "quantitative", "axis": null},
                "y": {"field": "v", "type": "quantitative", "axis": null}
              }
            },
            {
              "data": {"name": "obs"},
              "mark": {"type": "tick", "orient": "horizontal", "size": 46, "thickness": 4, "color": "black", "opacity": 1},
              "encoding": {
                "x": {"field": "T", "type": "quantitative", "axis": null},
                "y": {"field": "vlo", "type": "quantitative", "axis": null}
              }
            },
            {
              "data": {"name": "obs"},
              "mark": {"type": "tick", "orient": "horizontal", "size": 46, "thickness": 4, "color": "black", "opacity": 1},
              "encoding": {
                "x": {"field": "T", "type": "quantitative", "axis": null},
                "y": {"field": "vhi", "type": "quantitative", "axis": null}
              }
            },
            {
              "data": {"name": "obs"},
              "mark": {"type": "point", "shape": "circle", "filled": true, "size": 420, "color": "black", "opacity": 1},
              "encoding": {
                "x": {"field": "T", "type": "quantitative", "axis": null},
                "y": {"field": "v", "type": "quantitative", "axis": null}
              }
            },
            {
              "data": {"values": [{"t": "T"}]},
              "mark": {"type": "text", "fontSize": 38, "fontStyle": "italic", "align": "left", "baseline": "middle", "color": "black"},
              "encoding": {"x": {"datum": 3107, "type": "quantitative", "axis": null}, "y": {"datum": 2.06, "type": "quantitative", "axis": null}, "text": {"field": "t"}}
            },
            {
              "data": {"values": [{"t": "0"}]},
              "mark": {"type": "text", "fontSize": 26, "align": "left", "baseline": "middle", "color": "black", "dx": 23, "dy": 9},
              "encoding": {"x": {"datum": 3107, "type": "quantitative", "axis": null}, "y": {"datum": 2.06, "type": "quantitative", "axis": null}, "text": {"field": "t"}}
            },
            {
              "data": {"values": [{"t": "=  4500 K"}]},
              "mark": {"type": "text", "fontSize": 38, "align": "left", "baseline": "middle", "color": "black", "dx": 50},
              "encoding": {"x": {"datum": 3107, "type": "quantitative", "axis": null}, "y": {"datum": 2.06, "type": "quantitative", "axis": null}, "text": {"field": "t"}}
            },
            {
              "data": {"values": [{"t": "T"}]},
              "mark": {"type": "text", "fontSize": 35, "fontStyle": "italic", "align": "left", "baseline": "alphabetic", "color": "black"},
              "encoding": {"x": {"datum": 4500, "type": "quantitative", "axis": null}, "y": {"datum": -0.754, "type": "quantitative", "axis": null}, "text": {"field": "t"}}
            },
            {
              "data": {"values": [{"t": "eff"}]},
              "mark": {"type": "text", "fontSize": 24, "align": "left", "baseline": "alphabetic", "color": "black", "dx": 21, "dy": 7},
              "encoding": {"x": {"datum": 4500, "type": "quantitative", "axis": null}, "y": {"datum": -0.754, "type": "quantitative", "axis": null}, "text": {"field": "t"}}
            },
            {
              "data": {"values": [{"t": "(K)"}]},
              "mark": {"type": "text", "fontSize": 35, "align": "left", "baseline": "alphabetic", "color": "black", "dx": 67},
              "encoding": {"x": {"datum": 4500, "type": "quantitative", "axis": null}, "y": {"datum": -0.754, "type": "quantitative", "axis": null}, "text": {"field": "t"}}
            }
          ]
        }
      ]
    }
  ]
}
